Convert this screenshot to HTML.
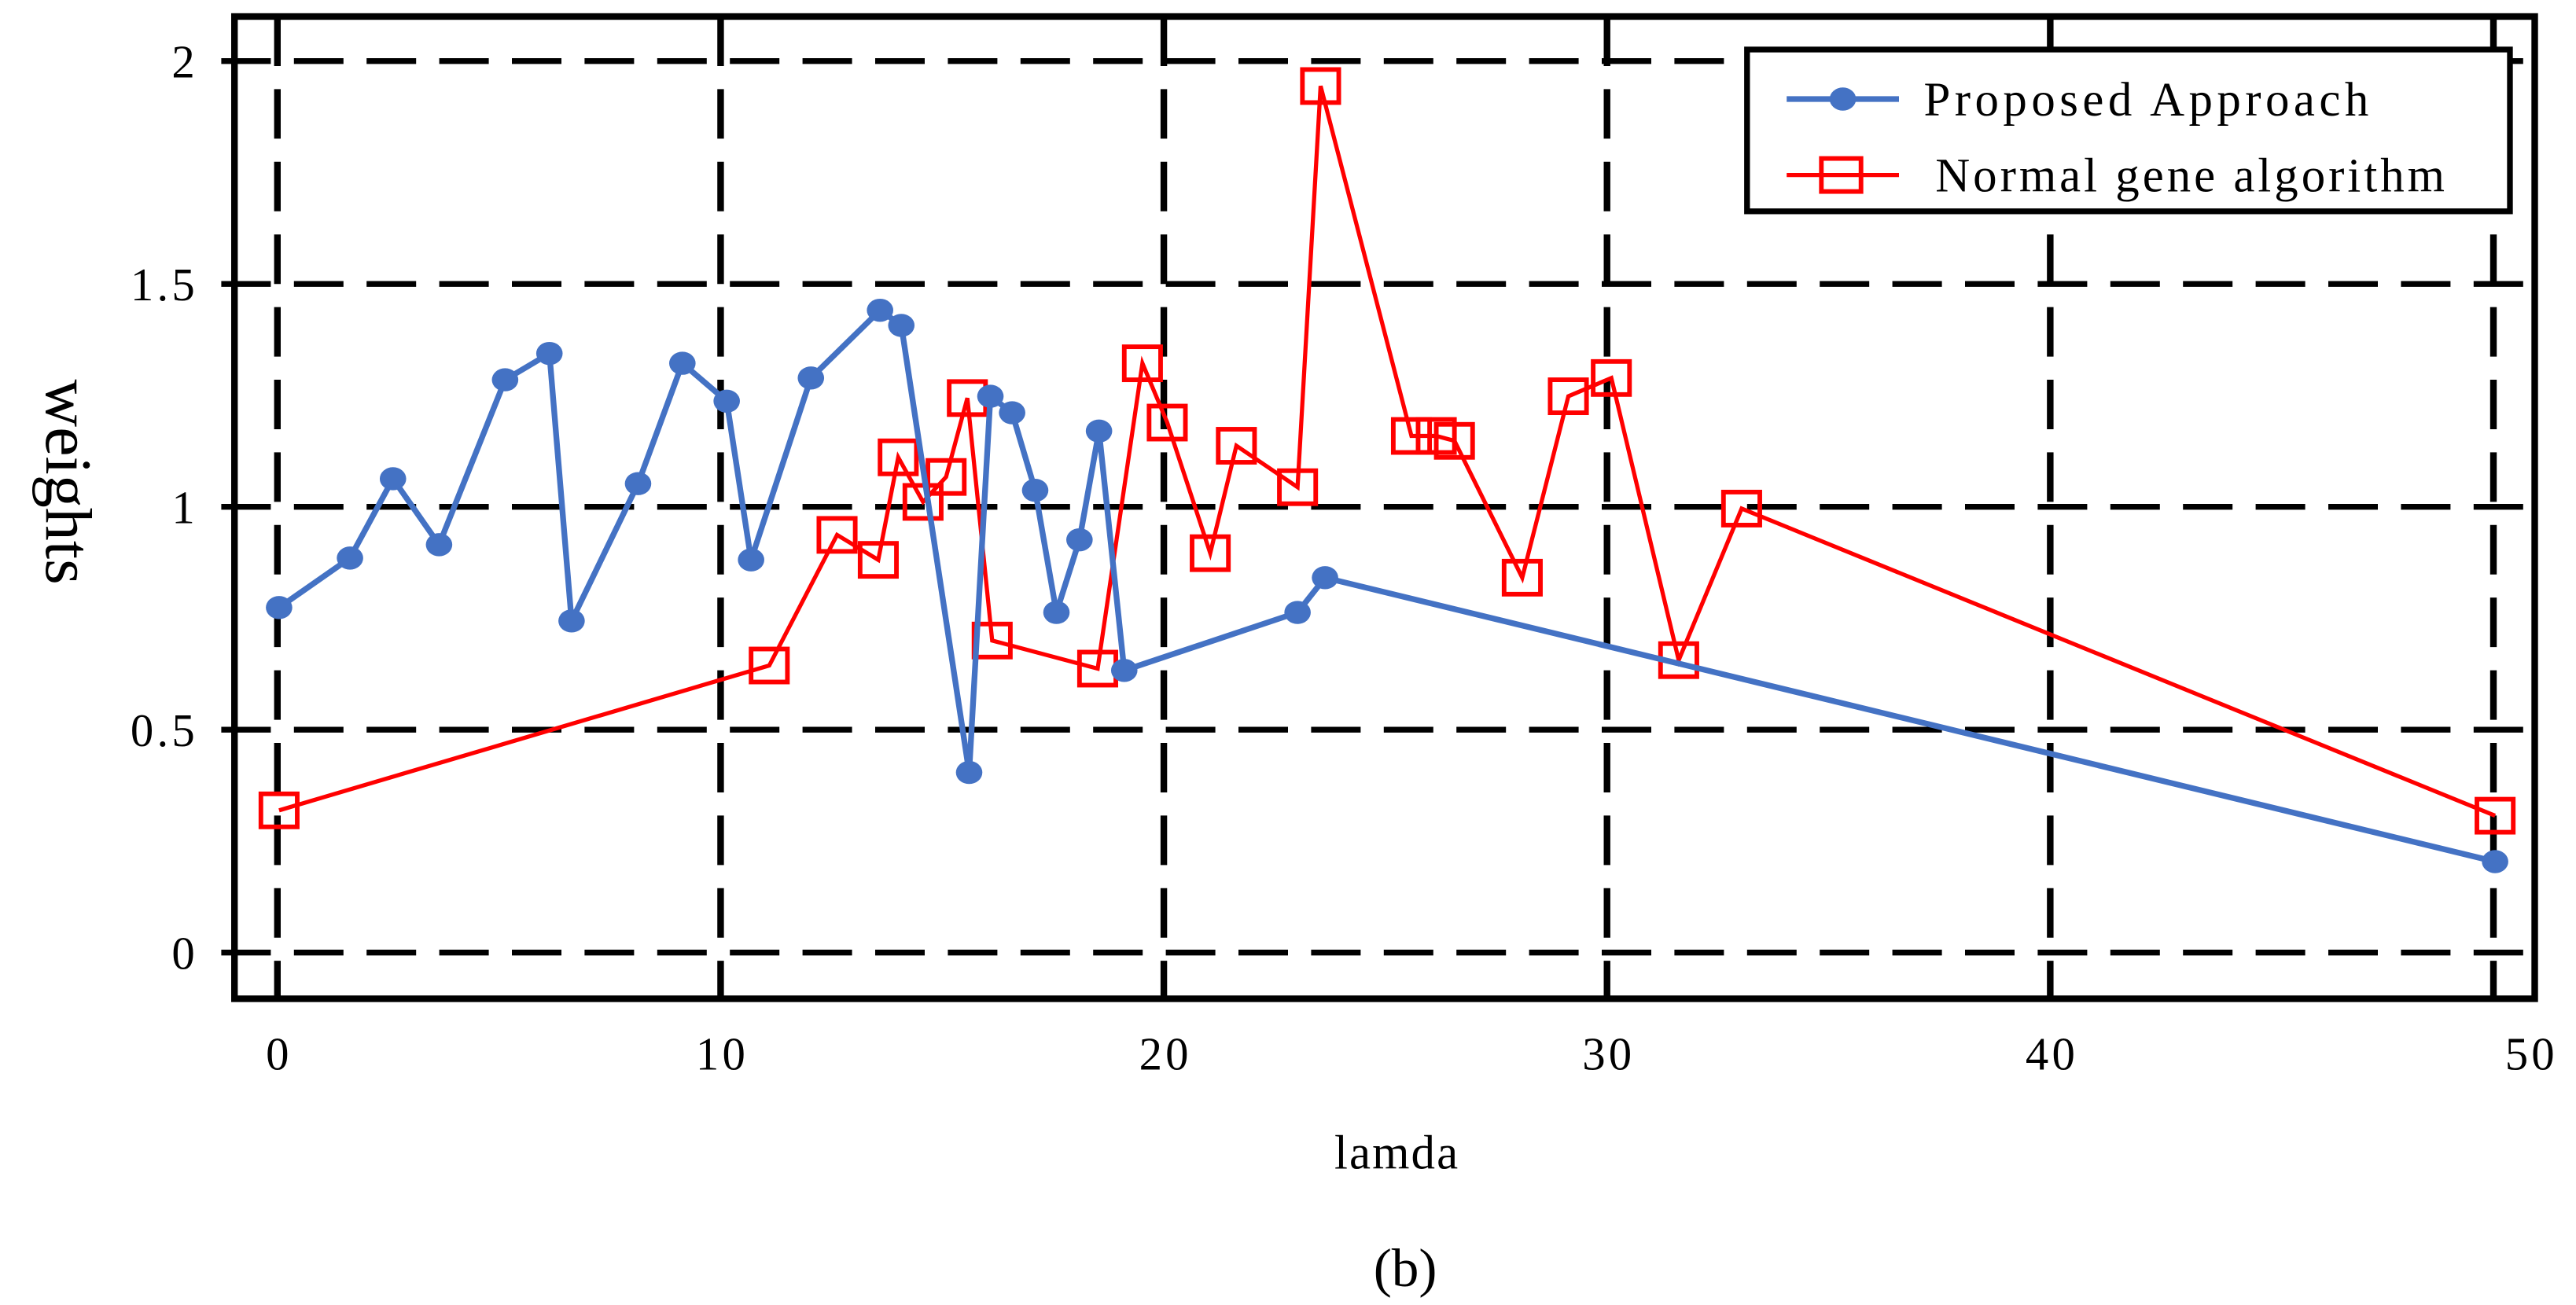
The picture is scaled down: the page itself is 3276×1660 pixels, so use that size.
<!DOCTYPE html>
<html><head><meta charset="utf-8"><style>
html,body{margin:0;padding:0;background:#fff;}
svg{display:block;font-family:"Liberation Serif",serif;}
</style></head><body>
<svg id="chart" width="3276" height="1660" viewBox="0 0 1560 790.5" preserveAspectRatio="none" xmlns="http://www.w3.org/2000/svg">
<g id="grid"></g>
<g id="series"></g>
<g id="axes"></g>
</svg>
<script>
const xTicks=[0,10,20,30,40,50];
const yTicks=[0,0.5,1,1.5,2];
const yTickLabels=["0","0.5","1","1.5","2"];
const blueX=[0,1.6,2.57,3.61,5.1,6.1,6.6,8.1,9.1,10.1,10.65,12.0,13.56,14.04,15.57,16.05,16.54,17.06,17.54,18.06,18.5,19.07,22.98,23.6,50];
const blueY=[0.774,0.885,1.063,0.915,1.285,1.344,0.744,1.052,1.322,1.237,0.881,1.289,1.441,1.407,0.404,1.248,1.211,1.037,0.763,0.926,1.170,0.633,0.763,0.841,0.204];
const redX=[0,11.06,12.59,13.52,13.97,14.53,15.05,15.53,16.09,18.47,19.48,20.04,21.01,21.6,22.98,23.5,25.55,26.11,26.52,28.05,29.09,30.06,31.58,33.0,50];
const redY=[0.319,0.644,0.937,0.881,1.111,1.011,1.067,1.244,0.7,0.637,1.322,1.189,0.896,1.137,1.044,1.944,1.159,1.159,1.148,0.841,1.248,1.289,0.656,0.996,0.307];

const NS="http://www.w3.org/2000/svg";
const L=142,R=1535,T=10,B=605;
function sx(v){return 169+v*26.84;}
function sy(v){return 577-v*270;}
function mk(tag,attrs,parent){const e=document.createElementNS(NS,tag);for(const k in attrs)e.setAttribute(k,attrs[k]);parent.appendChild(e);return e;}
const grid=document.getElementById('grid'),series=document.getElementById('series'),axes=document.getElementById('axes');

yTicks.forEach((v,i)=>{
  const ln=mk('line',{x1:L-8,x2:R,y1:sy(v),y2:sy(v),stroke:'#000','stroke-width':3.5,'stroke-dasharray':'30 14'},grid);
  
  
  const t=mk('text',{x:120,y:sy(v)+10,'text-anchor':'end','font-size':28,'letter-spacing':'2'},axes);
  t.textContent=yTickLabels[i];
  
  
});
xTicks.forEach((v,i)=>{
  const ln=mk('line',{x1:sx(v)-1,x2:sx(v)-1,y1:T,y2:B,stroke:'#000','stroke-width':4,'stroke-dasharray':'30 14'},grid);
  
  
  const t=mk('text',{x:(v===50?1533:sx(v)),y:648,'text-anchor':'middle','font-size':28,'letter-spacing':'2'},axes);
  t.textContent=String(v);
  
  
});
const fr=mk('rect',{x:L,y:T,width:R-L,height:B-T,fill:'none',stroke:'#000','stroke-width':4},axes);



const rp=mk('polyline',{points:redX.map((x,i)=>sx(x)+','+sy(redY[i])).join(' '),fill:'none',stroke:'#ff0000','stroke-width':2.5},series);


redX.forEach((x,i)=>{
  const r=mk('rect',{x:sx(x)-11,y:sy(redY[i])-10,width:22,height:20,fill:'none',stroke:'#ff0000','stroke-width':2.8},series);
  
  
});
const bp=mk('polyline',{points:blueX.map((x,i)=>sx(x)+','+sy(blueY[i])).join(' '),fill:'none',stroke:'#4472c4','stroke-width':3.5},series);


blueX.forEach((x,i)=>{
  const c=mk('ellipse',{cx:sx(x),cy:sy(blueY[i]),rx:8,ry:7,fill:'#4472c4'},series);
  
  
});

const lg=mk('g',{},axes);


mk('rect',{x:1058,y:30,width:462,height:98,fill:'#fff',stroke:'#000','stroke-width':3.5},lg);
const e1=mk('g',{},lg);


mk('line',{x1:1082,x2:1150,y1:60,y2:60,stroke:'#4472c4','stroke-width':3.5},e1);
mk('ellipse',{cx:1116,cy:60,rx:8,ry:7,fill:'#4472c4'},e1);
const t1=mk('text',{x:1165,y:70,'font-size':29,'letter-spacing':'2.6'},e1);t1.textContent='Proposed  Approach';
const e2=mk('g',{},lg);


mk('line',{x1:1082,x2:1150,y1:106,y2:106,stroke:'#ff0000','stroke-width':2.5},e2);
mk('rect',{x:1103,y:96,width:24,height:20,fill:'none',stroke:'#ff0000','stroke-width':2.8},e2);
const t2=mk('text',{x:1172,y:116,'font-size':29,'letter-spacing':'1.9'},e2);t2.textContent='Normal gene algorithm';

const xl=mk('text',{x:846,y:708,'text-anchor':'middle','font-size':29,'letter-spacing':'1'},axes);xl.textContent='lamda';


const yl=mk('text',{x:0,y:0,'text-anchor':'middle','font-size':40,transform:'translate(28,292) rotate(90)'},axes);yl.textContent='weights';


const cap=mk('text',{x:851,y:779,'text-anchor':'middle','font-size':33},axes);cap.textContent='(b)';


</script>
</body></html>
